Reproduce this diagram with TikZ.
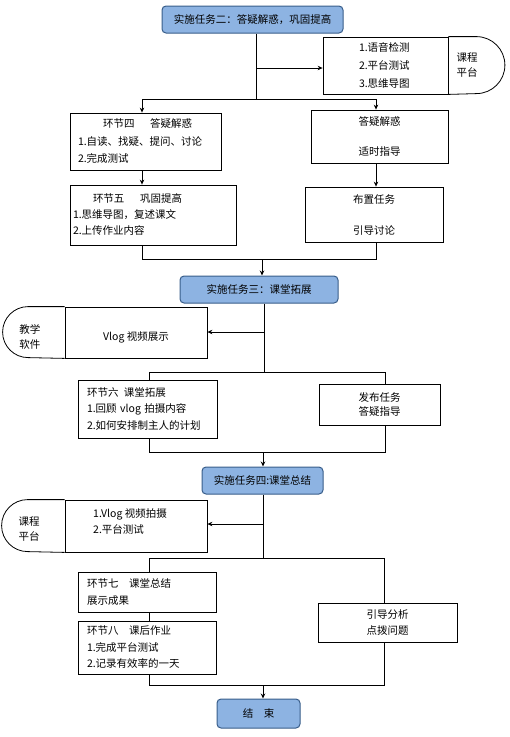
\documentclass[tikz,border=0pt]{standalone}
\usepackage{fontspec}
\setmainfont{Noto Sans CJK SC}
\usetikzlibrary{arrows.meta,calc}
\definecolor{taskfill}{HTML}{8DB3E2}
\definecolor{taskdraw}{HTML}{385D8A}
\begin{document}
\begin{tikzpicture}[x=1pt,y=-1pt,
  font=\fontsize{10.5}{17}\selectfont,
  box/.style={draw, line width=0.8pt, inner sep=0pt, align=left},
  cbox/.style={draw, line width=0.8pt, inner sep=0pt, align=center},
  task/.style={draw=taskdraw, fill=taskfill, line width=1pt, rounded corners=4pt, inner sep=0pt},
  ln/.style={line width=0.8pt},
  arr/.style={line width=0.8pt, -{Stealth[length=5pt,width=4.5pt]}},
  capline/.style={draw, line width=0.8pt},
  txt/.style={inner sep=0pt, align=left}]
\useasboundingbox (0,0) rectangle (510,737);

% ---- task 2 ----
\node[task, minimum width=181pt, minimum height=27pt] (T2) at (252.5,19.5) {实施任务二：答疑解惑，巩固提高};
\node[box, minimum width=125pt, minimum height=57pt, text width=53pt, font=\fontsize{10.5}{18}\selectfont] (R1) at (385.5,65.5) {1.语音检测\\2.平台测试\\3.思维导图};
\draw[capline] (R1.north east) -- ++(28,0) arc[start angle=-90,end angle=90,radius=28.5] -- (R1.south east);
\node[txt, font=\fontsize{10.5}{15}\selectfont] (R1c) at (467,65.5) {课程\\平台};

\node[box, minimum width=151pt, minimum height=57pt, text width=135pt, font=\fontsize{10.5}{17.5}\selectfont] (B4) at (145.5,141.5) {\hspace*{25pt}环节四\hspace{1.5em}答疑解惑\\1.自读、找疑、提问、讨论\\2.完成测试};
\node[box, minimum width=166pt, minimum height=60pt, text width=160pt, font=\fontsize{10.5}{16}\selectfont] (B5) at (153,215) {\hspace*{20pt}环节五\hspace{1.5em}巩固提高\\1.思维导图，复述课文\\2.上传作业内容};
\node[cbox, minimum width=137pt, minimum height=53pt, font=\fontsize{10.5}{15}\selectfont] (Q1) at (379.5,136.5) {答疑解惑\\[15pt]适时指导};
\node[cbox, minimum width=138pt, minimum height=55pt, font=\fontsize{10.5}{15}\selectfont] (Q2) at (374,214.5) {布置任务\\[16pt]引导讨论};

\coordinate (j1) at (256,99);
\draw[ln] (T2.south -| j1) -- (j1);
\coordinate (a1) at (256,68);
\draw[arr] (a1) -- (a1 -| R1.west);
\coordinate (h1l) at (142,99);
\coordinate (h1r) at (376,99);
\draw[ln] (h1l) -- (h1r);
\draw[arr] (h1l) -- (h1l |- B4.north);
\draw[arr] (h1r) -- (h1r |- Q1.north);
\draw[arr] (Q1.south -| h1r) -- (Q2.north -| h1r);
\draw[arr] (B4.south -| h1l) -- (B5.north -| h1l);
\coordinate (h2l) at (142,259);
\coordinate (h2r) at (376,259);
\draw[ln] (B5.south -| h2l) -- (h2l) -- (h2r) -- (Q2.south -| h2r);

% ---- task 3 ----
\node[task, minimum width=158pt, minimum height=27pt] (T3) at (259,289.5) {实施任务三：课堂拓展};
\coordinate (m2) at (262,259);
\draw[arr] (m2) -- (m2 |- T3.north);
\node[draw, line width=0.8pt, minimum width=142pt, minimum height=51pt, inner sep=0pt] (V1) at (136,332.5) {};
\node[txt] (V1t) at (136,337) {Vlog 视频展示};
\draw[capline] (V1.north west) -- ++(-36.5,0) arc[start angle=-90,end angle=-270,radius=25.5] -- (V1.south west);
\node[txt, font=\fontsize{10.5}{14.5}\selectfont] (V1c) at (30,337) {教学\\软件};
\coordinate (h3) at (264,372);
\draw[ln] (T3.south -| h3) -- (h3);
\coordinate (a3) at (264,332);
\draw[arr] (a3) -- (a3 -| V1.east);

\node[box, minimum width=139pt, minimum height=58pt, text width=121pt, font=\fontsize{10.5}{16.5}\selectfont] (B6) at (147.5,409) {环节六\hspace{0.5em}课堂拓展\\1.回顾 vlog 拍摄内容\\2.如何安排制主人的计划};
\node[cbox, minimum width=121pt, minimum height=41pt, font=\fontsize{10.5}{14}\selectfont] (F1) at (379.5,404.5) {发布任务\\答疑指导};
\coordinate (h3l) at (149,372);
\coordinate (h3r) at (385,372);
\draw[ln] (B6.north -| h3l) -- (h3l) -- (h3r) -- (F1.north -| h3r);
\coordinate (h4l) at (149,452);
\coordinate (h4r) at (385,452);
\draw[ln] (B6.south -| h4l) -- (h4l) -- (h4r) -- (F1.south -| h4r);

% ---- task 4 ----
\node[task, minimum width=121pt, minimum height=27pt] (T4) at (262.5,480.5) {实施任务四:课堂总结};
\coordinate (m4) at (263,452);
\draw[arr] (m4) -- (m4 |- T4.north);
\node[draw, line width=0.8pt, minimum width=142pt, minimum height=52pt, inner sep=0pt] (P2) at (136,526) {};
\node[txt, anchor=west, font=\fontsize{10.5}{16}\selectfont] (P2t) at (93,521) {1.Vlog 视频拍摄\\2.平台测试};
\draw[capline] (P2.north west) -- ++(-37,0) arc[start angle=-90,end angle=-270,radius=26] -- (P2.south west);
\node[txt, font=\fontsize{10.5}{15}\selectfont] (P2c) at (29,529.5) {课程\\平台};
\coordinate (h5) at (263,558);
\draw[ln] (T4.south -| h5) -- (h5);
\coordinate (a5) at (263,524);
\draw[arr] (a5) -- (a5 -| P2.east);

\node[box, minimum width=138pt, minimum height=40pt, text width=120pt, font=\fontsize{10.5}{17}\selectfont] (B7) at (147,592) {环节七\hspace{1em}课堂总结\\展示成果};
\node[box, minimum width=138pt, minimum height=53pt, text width=120pt, font=\fontsize{10.5}{16.5}\selectfont] (B8) at (147,647.5) {环节八\hspace{1em}课后作业\\1.完成平台测试\\2.记录有效率的一天};
\node[cbox, minimum width=139pt, minimum height=39pt, font=\fontsize{10.5}{16}\selectfont] (G1) at (387.5,622.5) {引导分析\\点拨问题};
\coordinate (h5l) at (149,558);
\coordinate (h5r) at (384,558);
\draw[ln] (B7.north -| h5l) -- (h5l) -- (h5r) -- (G1.north -| h5r);
\draw[ln] (B7.south -| h5l) -- (B8.north -| h5l);
\coordinate (h6l) at (149,685);
\coordinate (h6r) at (384,685);
\draw[ln] (B8.south -| h6l) -- (h6l) -- (h6r) -- (G1.south -| h6r);

\node[task, minimum width=83pt, minimum height=29pt] (E) at (258.5,713.5) {结\quad 束};
\coordinate (m6) at (263,685);
\draw[arr] (m6) -- (m6 |- E.north);
\end{tikzpicture}
\end{document}
